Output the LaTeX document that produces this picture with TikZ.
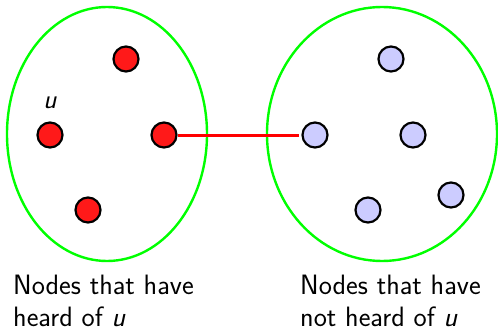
\documentclass[tikz,border=0pt]{standalone}
\usepackage{amsmath,amssymb}
\usepackage{tikz}

\begin{document}
\begin{tikzpicture}[x=1pt,y=-1pt]
        \tikzset{heard/.style={circle, draw=black, line width=2.2pt, fill=red!90, minimum size=25pt, inner sep=0pt},
        notheard/.style={circle, draw=black, line width=2.2pt, fill=blue!20, minimum size=25pt, inner sep=0pt},
        group/.style={draw=green, line width=2.4pt},
        caption/.style={font=\fontsize{28}{32}\selectfont\sffamily, align=left, anchor=base west, inner sep=0pt}}
        \useasboundingbox (0,0) rectangle (498,329);
        % the two groups
        \draw[group] (107,134) ellipse [x radius=100, y radius=127];
        \draw[group] (382,134) ellipse [x radius=115, y radius=127];
        % heard of u
        \node[heard] (A) at (126,59) {};
        \node[heard] (U) at (50,135) {};
        \node[heard] (C) at (164,135) {};
        \node[heard] (D) at (88,210) {};
        \node[font=\fontsize{27}{30}\selectfont\sffamily\itshape] (ulabel) at (50,103) {u};
        % not heard of u
        \node[notheard] (E) at (391,59) {};
        \node[notheard] (F) at (315,135) {};
        \node[notheard] (G) at (413,135) {};
        \node[notheard] (H) at (451,195) {};
        \node[notheard] (I) at (368,210) {};
        \draw[red, line width=3pt, shorten >=2pt] (C) -- (F);
        % captions
        \node[caption] (left) at (13,326) {Nodes that have\\heard of \textit{u}};
        \node[caption] (right) at (300,326) {Nodes that have\\not heard of \textit{u}};
    \end{tikzpicture}
\end{document}
